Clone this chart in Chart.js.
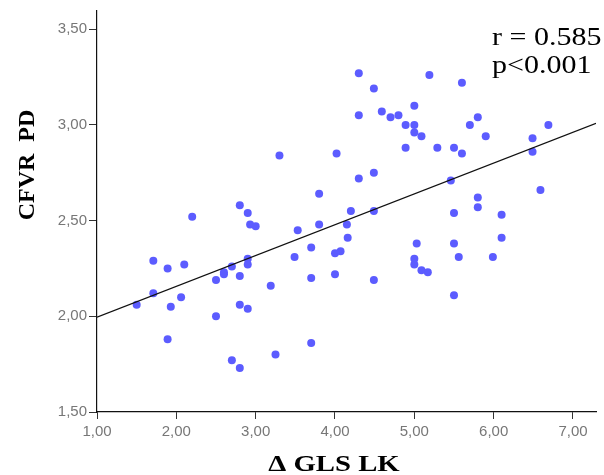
<!DOCTYPE html>
<html>
<head>
<meta charset="utf-8">
<script src="https://cdn.jsdelivr.net/npm/chart.js@4.4.1/dist/chart.umd.min.js"></script>
<style>
  html, body { margin: 0; padding: 0; background: #fff; }
  #wrap { width: 604px; height: 475px; position: relative; }
</style>
</head>
<body>
<div id="wrap"><canvas id="chart" width="604" height="475"></canvas></div>
<script>
// Δ GLS LK (x) and CFVR PD (y)
const gls = [
  4.30, 5.19, 5.60, 4.49, 4.30, 4.59, 4.70, 4.80, 5.00, 4.89,
  5.00, 5.00, 5.09, 4.89, 5.29, 5.50, 5.60, 5.80, 5.70, 5.90,
  6.49, 6.69, 6.49, 6.59, 4.30, 4.49, 4.02, 5.46, 5.80, 5.80,
  5.50, 6.10, 4.20, 4.49, 3.30, 3.80, 2.80, 2.90, 2.20, 2.93,
  3.00, 3.80, 4.15, 4.16, 3.53, 3.70, 3.49, 3.70, 4.00, 4.07,
  4.00, 3.70, 1.71, 1.89, 2.10, 1.71, 1.50, 1.93, 2.06, 1.89,
  2.50, 2.50, 2.60, 2.60, 2.70, 2.90, 2.90, 2.80, 3.19, 2.80,
  2.90, 2.70, 2.80, 3.25, 5.03, 5.50, 6.10, 5.00, 5.00, 5.56,
  5.99, 5.09, 5.17, 4.49, 5.50
];
const cfvr = [
  3.27, 3.26, 3.22, 3.19, 3.05, 3.07, 3.04, 3.05, 3.10, 3.00,
  3.00, 2.96, 2.94, 2.88, 2.88, 2.88, 2.85, 3.04, 3.00, 2.94,
  2.93, 3.00, 2.86, 2.66, 2.72, 2.75, 2.85, 2.71, 2.62, 2.57,
  2.54, 2.53, 2.55, 2.55, 2.84, 2.64, 2.58, 2.54, 2.52, 2.48,
  2.47, 2.48, 2.48, 2.41, 2.45, 2.36, 2.31, 2.20, 2.33, 2.34,
  2.22, 1.86, 2.29, 2.25, 2.27, 2.12, 2.06, 2.05, 2.10, 1.88,
  2.19, 2.00, 2.23, 2.22, 2.26, 2.30, 2.27, 2.21, 2.16, 2.06,
  2.04, 1.77, 1.73, 1.80, 2.38, 2.38, 2.41, 2.30, 2.27, 2.31,
  2.31, 2.24, 2.23, 2.19, 2.11
];

// fit line end points
const fitX = [1.00, 7.29];
const fitY = [1.995, 3.008];

const xTicks = [1, 2, 3, 4, 5, 6, 7];
const yTicks = [1.5, 2.0, 2.5, 3.0, 3.5];

const xTitle = "\u0394 GLS LK";
const yTitle = "CFVR  PD";
const note = ["r = 0.585", "p<0.001"];

const comma = (v) => Number(v).toFixed(2).replace(".", ",");

// axis titles and the r / p note
const textPlugin = {
  id: "texts",
  afterDraw(chart) {
    const ctx = chart.ctx;
    ctx.save();
    ctx.fillStyle = "#000";

    ctx.font = "bold 23px 'Liberation Serif', 'Times New Roman', serif";
    ctx.textAlign = "center";
    ctx.textBaseline = "alphabetic";
    ctx.save();
    ctx.translate(334, 471);
    ctx.scale(1.25, 1);
    ctx.fillText(xTitle, 0, 0);
    ctx.restore();

    ctx.save();
    ctx.font = "bold 24px 'Liberation Serif', 'Times New Roman', serif";
    ctx.translate(34, 165);
    ctx.rotate(-Math.PI / 2);
    ctx.fillText(yTitle, 0, 0);
    ctx.restore();

    ctx.font = "25px 'Liberation Serif', 'Times New Roman', serif";
    ctx.textAlign = "left";
    note.forEach((t, i) => {
      ctx.save();
      ctx.translate(492, 45 + i * 28);
      ctx.scale(1.2, 1);
      ctx.fillText(t, 0, 0);
      ctx.restore();
    });
    ctx.restore();
  }
};

const tickFont = { family: "'Liberation Sans', Arial, sans-serif", size: 15 };

new Chart(document.getElementById("chart"), {
  type: "scatter",
  data: {
    datasets: [
      {
        label: "CFVR PD",
        data: gls.map((x, i) => ({ x: x, y: cfvr[i] })),
        backgroundColor: "rgb(92,92,255)",
        borderColor: "rgb(92,92,255)",
        pointRadius: 4,
        pointBorderWidth: 0,
        order: 2
      },
      {
        label: "fit",
        data: fitX.map((x, i) => ({ x: x, y: fitY[i] })),
        showLine: true,
        borderColor: "#111",
        borderWidth: 1.3,
        pointRadius: 0,
        order: 1
      }
    ]
  },
  options: {
    responsive: false,
    animation: false,
    layout: { autoPadding: false, padding: { top: 10, right: 8, left: 0, bottom: 0 } },
    plugins: { legend: { display: false }, tooltip: { enabled: false } },
    scales: {
      x: {
        type: "linear",
        min: 1,
        max: 7.29,
        afterFit: (s) => { s.height = 63; },
        afterBuildTicks: (s) => { s.ticks = xTicks.map((v) => ({ value: v })); },
        grid: { drawOnChartArea: false, drawTicks: true, tickLength: 7, color: "#333" },
        border: { color: "#111", width: 1.2 },
        ticks: { font: tickFont, color: "#777", padding: 4, maxRotation: 0, callback: comma }
      },
      y: {
        type: "linear",
        min: 1.5,
        max: 3.595,
        afterFit: (s) => { s.width = 97; },
        afterBuildTicks: (s) => { s.ticks = yTicks.map((v) => ({ value: v })); },
        grid: { drawOnChartArea: false, drawTicks: true, tickLength: 8, color: "#333" },
        border: { color: "#111", width: 1.2 },
        ticks: { font: tickFont, color: "#777", padding: 2, callback: comma }
      }
    }
  },
  plugins: [textPlugin]
});
</script>
</body>
</html>
